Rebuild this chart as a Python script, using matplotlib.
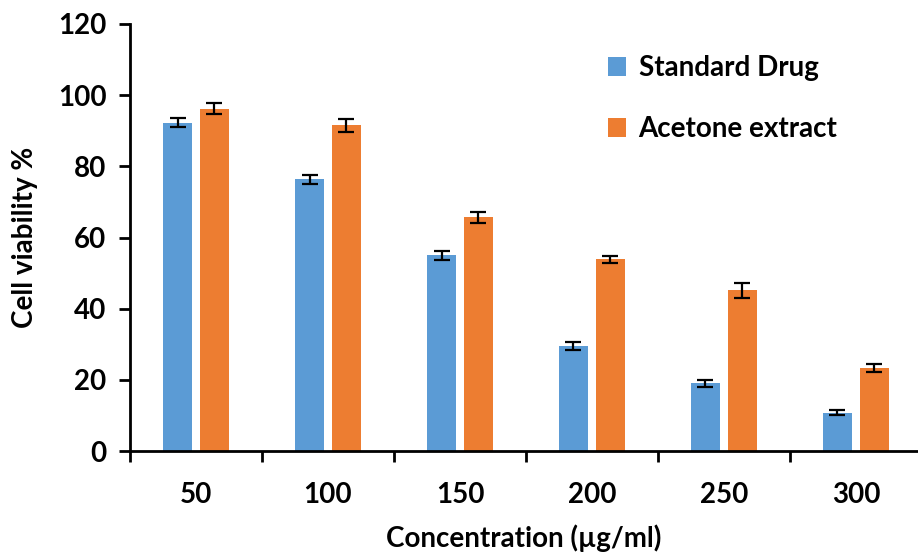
import matplotlib
matplotlib.use("Agg")
import matplotlib.pyplot as plt
import numpy as np

plt.rcParams["font.family"] = ["Lato", "DejaVu Sans"]
plt.rcParams["font.weight"] = "bold"

# 데이터
concentrations = ["50", "100", "150", "200", "250", "300"]
standard_drug = [92.3, 76.4, 55.0, 29.5, 19.0, 10.8]
standard_err = [1.2, 1.3, 1.3, 1.0, 1.0, 0.6]
acetone_extract = [96.2, 91.5, 65.7, 53.9, 45.2, 23.3]
acetone_err = [1.5, 1.8, 1.6, 1.0, 2.1, 1.2]

BLUE = "#5B9BD5"
ORANGE = "#ED7D31"

fig = plt.figure(figsize=(9.18, 5.53), dpi=100)
ax = fig.add_axes([130 / 918, 102 / 553, 1 - 130 / 918, 427 / 553])

x = np.arange(len(concentrations))
width = 0.22
offset = 0.14

err_kw = dict(ecolor="black", elinewidth=1.6, capsize=5.5, capthick=1.6)
ax.bar(x - offset, standard_drug, width, yerr=standard_err, color=BLUE,
       label="Standard Drug", error_kw=err_kw)
ax.bar(x + offset, acetone_extract, width, yerr=acetone_err, color=ORANGE,
       label="Acetone extract", error_kw=err_kw)

ax.set_xlim(-0.5, 5.47)
ax.set_ylim(0, 120)
ax.set_yticks(range(0, 121, 20))
ax.set_xticks(x)
ax.set_xticklabels(concentrations)
ax.set_xticks(np.arange(0.5, len(concentrations), 1) - 1, minor=True)
ax.tick_params(axis="x", which="major", length=0, pad=22, labelsize=20)
ax.tick_params(axis="x", which="minor", length=8, width=2, direction="out")
ax.tick_params(axis="y", length=8, width=2, direction="out", labelsize=20, pad=9)

for side in ["top", "right"]:
    ax.spines[side].set_visible(False)
for side in ["left", "bottom"]:
    ax.spines[side].set_linewidth(2)

ax.set_ylabel("Cell viability %", fontsize=20, fontweight="bold", labelpad=14)
ax.set_xlabel("Concentration (\u00b5g/ml)", fontsize=20, fontweight="bold", labelpad=12)

ax.legend(loc="upper left", bbox_to_anchor=(0.575, 0.985), frameon=False,
          fontsize=20, handlelength=0.65, handleheight=0.65, handletextpad=0.45,
          labelspacing=1.25)

fig.savefig("out.png", dpi=100)
